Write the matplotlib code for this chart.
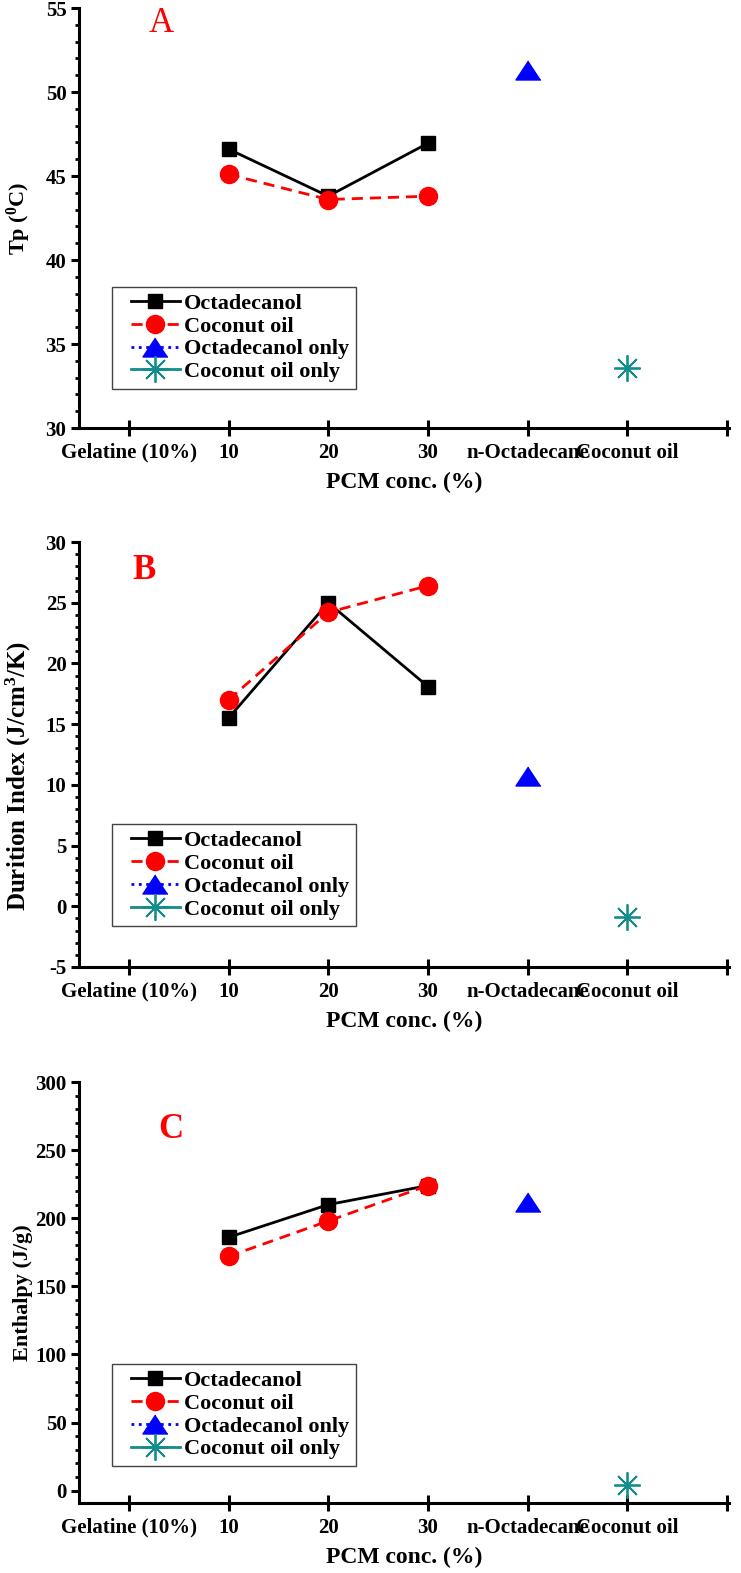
import matplotlib.pyplot as plt
from matplotlib.ticker import MultipleLocator
from matplotlib.lines import Line2D
from matplotlib.legend_handler import HandlerLine2D

plt.rcParams['font.family'] = ['Liberation Serif', 'DejaVu Serif']
plt.rcParams['font.weight'] = 'bold'
plt.rcParams['mathtext.fontset'] = 'custom'
plt.rcParams['mathtext.rm'] = 'Liberation Serif:bold'
plt.rcParams['mathtext.it'] = 'Liberation Serif:bold'
plt.rcParams['mathtext.bf'] = 'Liberation Serif:bold'
plt.rcParams['mathtext.default'] = 'rm'
plt.rcParams['axes.unicode_minus'] = False

# x categories (last tick has no label)
categories = ['Gelatine (10%)', '10', '20', '30', 'n-Octadecane', 'Coconut oil', '']
conc = ['10', '20', '30']

# panel A: peak temperature
tp_octadecanol = [46.6, 43.8, 46.95]
tp_coconut = [45.1, 43.6, 43.8]
tp_octadecanol_only = [51.3]
tp_coconut_only = [33.6]

# panel B: durition index
di_octadecanol = [15.5, 25.0, 18.1]
di_coconut = [17.0, 24.2, 26.4]
di_octadecanol_only = [10.7]
di_coconut_only = [-0.9]

# panel C: enthalpy
h_octadecanol = [186, 210, 224]
h_coconut = [172, 198, 224]
h_octadecanol_only = [212]
h_coconut_only = [4.4]

teal = '#138c8c'
tri = [(0, 0.76), (-1, -0.76), (1, -0.76)]


def draw_panel(ax, oct_vals, coco_vals, oct_only, coco_only, ylim, major, minor,
               ylabel, ylabel_size, ylabel_y, letter, letter_pos, letter_weight, leg_y):
    xc = [categories.index(c) + 1 for c in conc]
    x_oct_only = [categories.index('n-Octadecane') + 1]
    x_coco_only = [categories.index('Coconut oil') + 1]

    ax.plot(xc, oct_vals, color='k', lw=2, marker='s', ms=10.5, label='Octadecanol')
    ax.plot(xc, coco_vals, color='red', lw=2, ls=(0, (4, 2.5)), marker='o', ms=13,
            label='Coconut oil')
    ax.plot(x_oct_only, oct_only, color='blue', lw=2, ls=':', marker=tri, ms=18,
            label='Octadecanol only')
    ax.plot(x_coco_only, coco_only, color=teal, lw=2, marker=(8, 2, 0), ms=19,
            mew=1.3, label='Coconut oil only')

    ax.set_xlim(0.5, 7.02)
    ax.set_ylim(*ylim)
    ax.set_xticks(range(1, len(categories) + 1))
    ax.set_xticklabels(categories)
    ax.yaxis.set_major_locator(MultipleLocator(major))
    ax.yaxis.set_minor_locator(MultipleLocator(minor))

    for side in ['top', 'right']:
        ax.spines[side].set_visible(False)
    for side in ['left', 'bottom']:
        ax.spines[side].set_linewidth(2.2)

    ax.tick_params(axis='x', direction='inout', length=11, width=2.2, pad=5, labelsize=15)
    ax.tick_params(axis='y', which='major', direction='out', length=6, width=2.2, pad=3,
                   labelsize=15)
    ax.tick_params(axis='y', which='minor', direction='out', length=3, width=2)

    ax.set_xlabel('PCM conc. (%)', fontsize=17, fontweight='bold')
    ax.set_ylabel(ylabel, fontsize=ylabel_size, fontweight='bold')
    h = ax.get_position().height * 1573
    ax.xaxis.set_label_coords(0.5, -44 / h)
    ax.yaxis.set_label_coords(-0.071, ylabel_y)

    ax.text(letter_pos[0], letter_pos[1], letter, transform=ax.transAxes, color='red',
            fontsize=25, fontweight=letter_weight, ha='center', va='center')

    leg = ax.legend(loc='lower left', bbox_to_anchor=(0.051, leg_y), borderaxespad=0,
                    fontsize=16, fancybox=False, edgecolor='#444444', framealpha=1,
                    handlelength=2.75, handletextpad=0.2, labelspacing=0.1,
                    borderpad=0.3, numpoints=1,
                    handler_map={Line2D: HandlerLine2D(xpad=0.55)})
    leg.get_frame().set_linewidth(1)


fig = plt.figure(figsize=(7.41, 15.73), dpi=100)
W, H = 741, 1573
left, width = 79 / W, 650 / W

ax_a = fig.add_axes([left, 1 - 428 / H, width, 420 / H])
ax_b = fig.add_axes([left, 1 - 967 / H, width, 425 / H])
ax_c = fig.add_axes([left, 1 - 1503 / H, width, 421 / H])

draw_panel(ax_a, tp_octadecanol, tp_coconut, tp_octadecanol_only, tp_coconut_only,
           (30, 55), 5, 1, r'Tp ($^{0}$C)', 16, 0.5, 'A', (0.126, 0.963), 'normal', 0.093)
draw_panel(ax_b, di_octadecanol, di_coconut, di_octadecanol_only, di_coconut_only,
           (-5, 30), 5, 1, r'Durition Index (J/cm$^{3}$/K)', 18, 0.45, 'B', (0.1, 0.932),
           'bold', 0.096)
draw_panel(ax_c, h_octadecanol, h_coconut, h_octadecanol_only, h_coconut_only,
           (-9, 300), 50, 10, 'Enthalpy (J/g)', 16, 0.5, 'C', (0.1415, 0.888), 'bold', 0.088)

fig.savefig('out.png', dpi=100)
